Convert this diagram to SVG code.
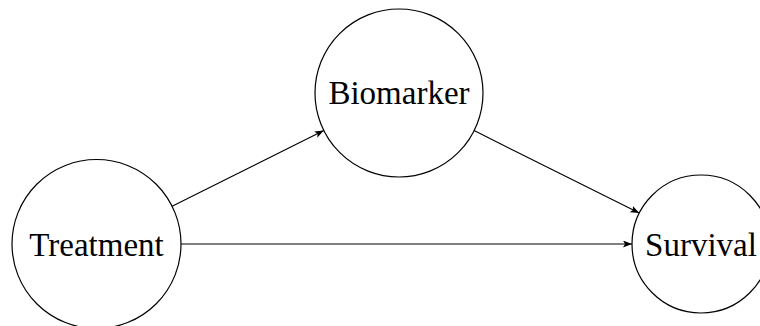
<svg xmlns="http://www.w3.org/2000/svg" width="760" height="326" viewBox="0 0 760 326">
  <style>
    .node circle { fill: #ffffff; stroke: #000000; stroke-width: 1.2; }
    .node text { font-family: "Liberation Serif", "DejaVu Serif", serif; font-size: 33px; fill: #000000; text-anchor: middle; }
    .edge { stroke: #000000; stroke-width: 1.1; fill: none; marker-end: url(#arrow); }
  </style>
  <defs>
    <marker id="arrow" markerUnits="userSpaceOnUse" markerWidth="10" markerHeight="8" refX="9" refY="3.5" orient="auto">
      <path d="M0,0 L9,3.5 L0,7 L2,3.5 z" fill="#000000"/>
    </marker>
  </defs>

  <rect width="760" height="326" fill="#ffffff"/>

  <g id="connectors">
    <line class="edge" x1="172.1" y1="206.2" x2="323.8" y2="130.5"/>
    <line class="edge" x1="181" y1="244" x2="632" y2="244"/>
    <line class="edge" x1="474.1" y1="130.6" x2="639.3" y2="213.1"/>
  </g>

  <g id="treatment" class="node">
    <circle cx="96.5" cy="244" r="84.5"/>
    <text x="96.5" y="256">Treatment</text>
  </g>

  <g id="biomarker" class="node">
    <circle cx="399" cy="93" r="84"/>
    <text x="399" y="104">Biomarker</text>
  </g>

  <g id="survival" class="node">
    <circle cx="701" cy="244" r="69"/>
    <text x="701" y="256">Survival</text>
  </g>
</svg>
